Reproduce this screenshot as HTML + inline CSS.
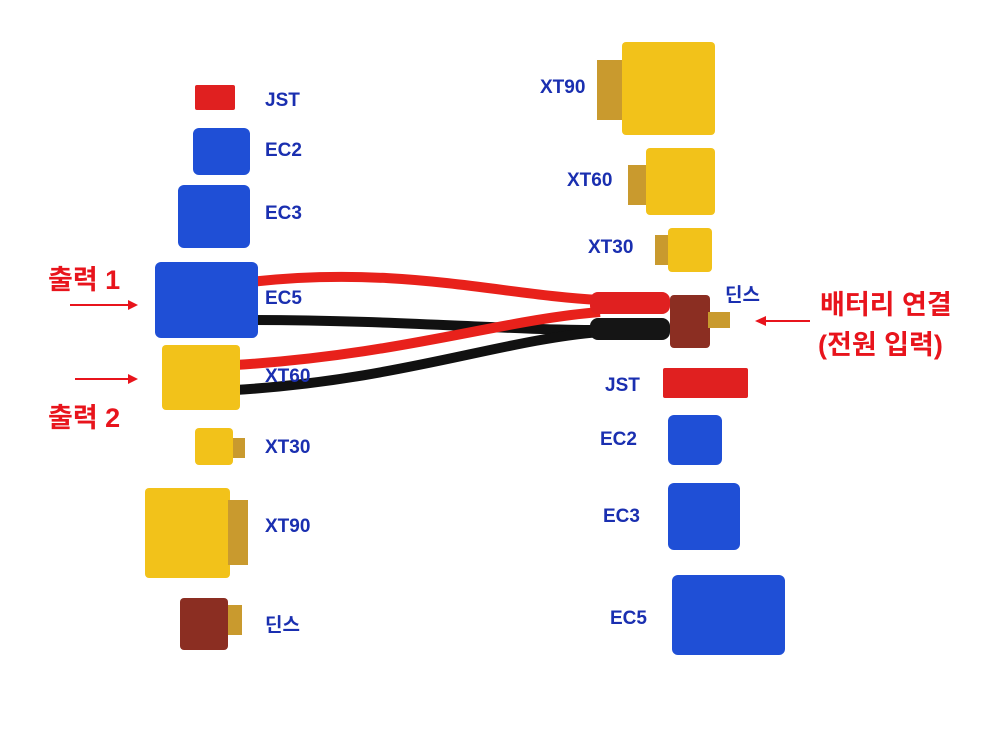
<!DOCTYPE html>
<html><head><meta charset="utf-8"><style>
body{margin:0;width:1000px;height:733px;background:#fff;position:relative;overflow:hidden;font-family:"Liberation Sans","Noto Sans CJK KR",sans-serif}
.a{position:absolute}
.lb{position:absolute;color:#1a2fb0;font-weight:bold;font-size:19px}
.rd{position:absolute;color:#e8141c;font-weight:bold;font-size:27px}
.blue{background:#1f4fd6;border-radius:6px}
.yel{background:#f2c21a;border-radius:4px}
.red{background:#e02020;border-radius:2px}
.br{background:#8b2e22;border-radius:4px}
.pin{background:#c99a2e}
</style></head><body>
<svg class="a" style="left:0;top:0" width="1000" height="733">
<path d="M250 282 C400 265 500 295 600 300" stroke="#e8211b" stroke-width="10" fill="none"/>
<path d="M250 320 C400 320 500 330 600 330" stroke="#111" stroke-width="10" fill="none"/>
<path d="M235 365 C400 355 500 320 600 312" stroke="#e8211b" stroke-width="10" fill="none"/>
<path d="M235 390 C400 380 500 340 600 332" stroke="#111" stroke-width="10" fill="none"/>
<rect x="590" y="292" width="80" height="22" rx="8" fill="#e02020"/>
<rect x="590" y="318" width="80" height="22" rx="8" fill="#151515"/>
<line x1="70" y1="305" x2="130" y2="305" stroke="#e8141c" stroke-width="2"/>
<polygon points="138,305 128,300 128,310" fill="#e8141c"/>
<line x1="75" y1="379" x2="130" y2="379" stroke="#e8141c" stroke-width="2"/>
<polygon points="138,379 128,374 128,384" fill="#e8141c"/>
<line x1="810" y1="321" x2="765" y2="321" stroke="#e8141c" stroke-width="2"/>
<polygon points="755,321 766,316 766,326" fill="#e8141c"/>
</svg>
<!-- left -->
<div class="a red" style="left:195px;top:85px;width:40px;height:25px"></div>
<div class="a blue" style="left:193px;top:128px;width:57px;height:47px"></div>
<div class="a blue" style="left:178px;top:185px;width:72px;height:63px"></div>
<div class="a blue" style="left:155px;top:262px;width:103px;height:76px"></div>
<div class="a yel" style="left:162px;top:345px;width:78px;height:65px"></div>
<div class="a yel" style="left:195px;top:428px;width:38px;height:37px"></div>
<div class="a pin" style="left:233px;top:438px;width:12px;height:20px"></div>
<div class="a yel" style="left:145px;top:488px;width:85px;height:90px"></div>
<div class="a pin" style="left:228px;top:500px;width:20px;height:65px"></div>
<div class="a br" style="left:180px;top:598px;width:48px;height:52px"></div>
<div class="a pin" style="left:228px;top:605px;width:14px;height:30px"></div>
<div class="lb" style="left:265px;top:90px">JST</div>
<div class="lb" style="left:265px;top:140px">EC2</div>
<div class="lb" style="left:265px;top:203px">EC3</div>
<div class="lb" style="left:265px;top:288px">EC5</div>
<div class="lb" style="left:265px;top:366px">XT60</div>
<div class="lb" style="left:265px;top:437px">XT30</div>
<div class="lb" style="left:265px;top:516px">XT90</div>
<div class="lb" style="left:265px;top:610px">딘스</div>
<div class="rd" style="left:48px;top:258px">출력 1</div>
<div class="rd" style="left:48px;top:396px">출력 2</div>
<!-- right -->
<div class="a pin" style="left:597px;top:60px;width:28px;height:60px"></div>
<div class="a yel" style="left:622px;top:42px;width:93px;height:93px"></div>
<div class="a pin" style="left:628px;top:165px;width:20px;height:40px"></div>
<div class="a yel" style="left:646px;top:148px;width:69px;height:67px"></div>
<div class="a pin" style="left:655px;top:235px;width:15px;height:30px"></div>
<div class="a yel" style="left:668px;top:228px;width:44px;height:44px"></div>
<div class="a br" style="left:670px;top:295px;width:40px;height:53px"></div>
<div class="a pin" style="left:708px;top:312px;width:22px;height:16px"></div>
<div class="a red" style="left:663px;top:368px;width:85px;height:30px"></div>
<div class="a blue" style="left:668px;top:415px;width:54px;height:50px"></div>
<div class="a blue" style="left:668px;top:483px;width:72px;height:67px"></div>
<div class="a blue" style="left:672px;top:575px;width:113px;height:80px"></div>
<div class="lb" style="left:540px;top:77px">XT90</div>
<div class="lb" style="left:567px;top:170px">XT60</div>
<div class="lb" style="left:588px;top:237px">XT30</div>
<div class="lb" style="left:725px;top:280px">딘스</div>
<div class="lb" style="left:605px;top:375px">JST</div>
<div class="lb" style="left:600px;top:429px">EC2</div>
<div class="lb" style="left:603px;top:506px">EC3</div>
<div class="lb" style="left:610px;top:608px">EC5</div>
<div class="rd" style="left:820px;top:283px">배터리 연결</div>
<div class="rd" style="left:818px;top:323px">(전원 입력)</div>
</body></html>
